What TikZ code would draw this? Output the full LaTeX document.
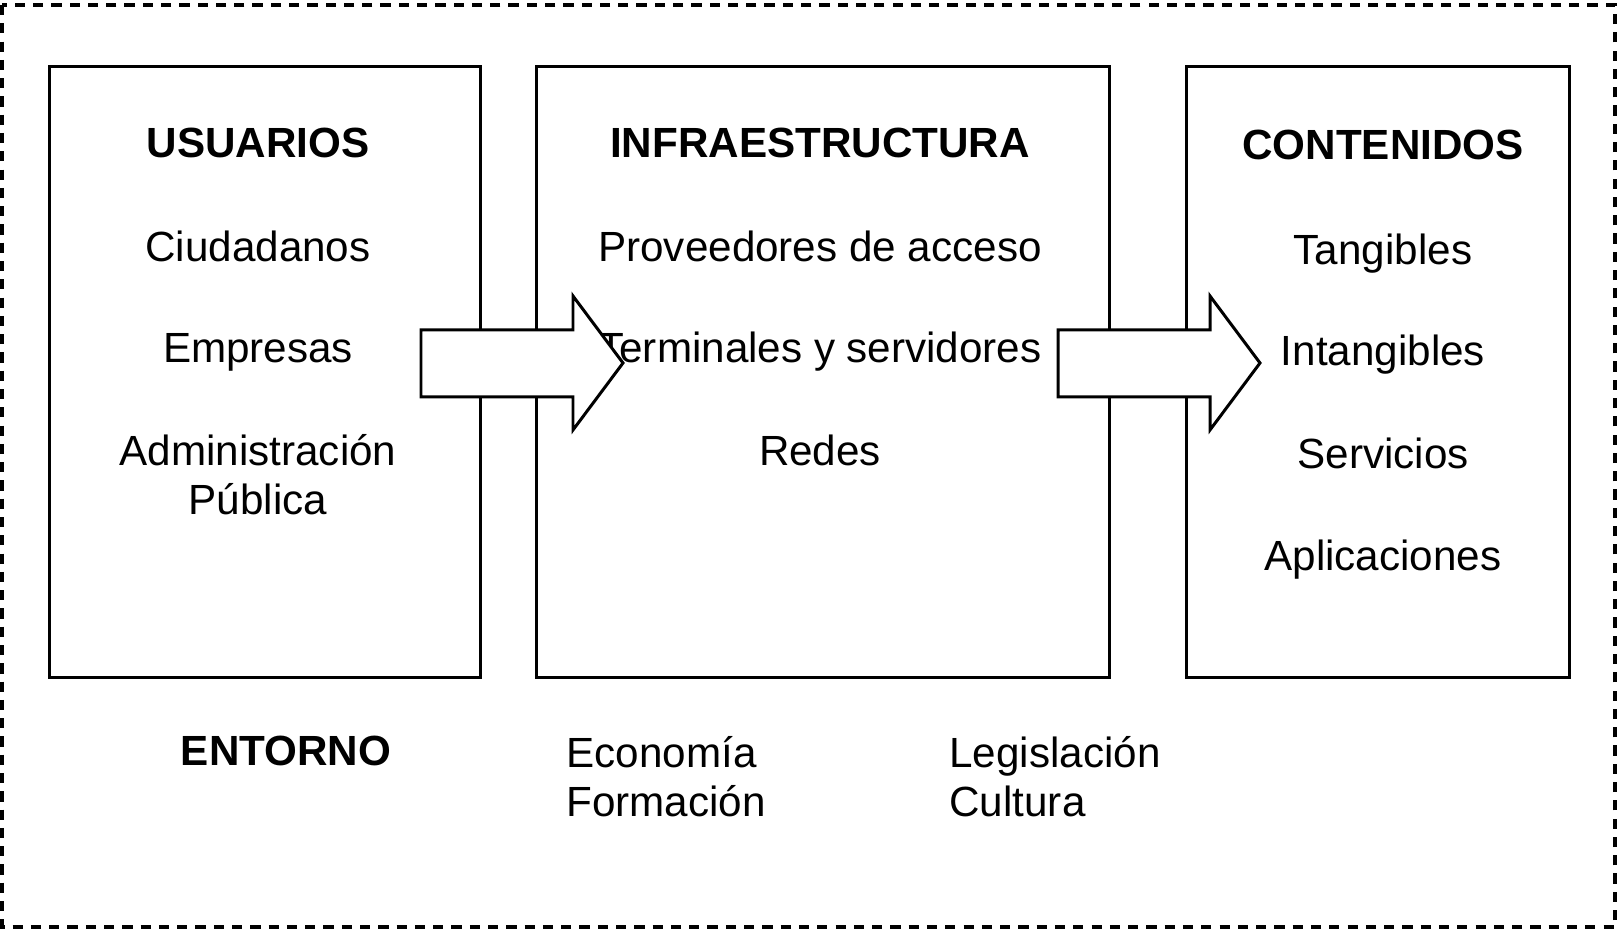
\documentclass[tikz,border=0pt]{standalone}
\usepackage{fontspec}
\setmainfont{Liberation Sans}
\usetikzlibrary{positioning}

\begin{document}
\begin{tikzpicture}[x=0.01cm, y=-0.01cm, line width=0.85pt, inner sep=0pt,
    font=\fontsize{12pt}{14pt}\selectfont,
    block/.style={draw, rectangle, minimum height=6.10cm},
    head/.style={anchor=base, font=\fontsize{12pt}{14pt}\selectfont\bfseries},
    item/.style={anchor=base, align=center}]
\useasboundingbox (0,0) rectangle (1617,931);
\draw[dash pattern=on 2.9pt off 2.3pt, line width=0.9pt] (2,5) rectangle (1615,927);

\path (265,372) node[block, minimum width=4.31cm] (usr) {};
\path (823,372) node[block, minimum width=5.72cm] (inf) {};
\path (1378,372) node[block, minimum width=3.82cm] (cnt) {};

\path (258,158) node[head] (U-0) {USUARIOS};
\foreach \na / \y / \txt in {1/262/Ciudadanos, 2/363/Empresas, 3/515/{Administración\\Pública}}
    \path (258,\y) node[item] (U-\na) {\txt};

\path (820,158) node[head] (I-0) {INFRAESTRUCTURA};
\foreach \na / \y / \txt in {1/262/Proveedores de acceso, 2/363/Terminales y servidores, 3/466/Redes}
    \path (820,\y) node[item] (I-\na) {\txt};

\path (1383,160) node[head] (C-0) {CONTENIDOS};
\foreach \na / \y / \txt in {1/265/Tangibles, 2/366/Intangibles, 3/469/Servicios, 4/571/Aplicaciones}
    \path (1383,\y) node[item] (C-\na) {\txt};

% entorno
\path (286,766) node[head] (env) {ENTORNO};
\path (565,817) node[anchor=base west, align=left] (env-a) {Economía\\Formación};
\path (948,817) node[anchor=base west, align=left] (env-b) {Legislación\\Cultura};

% flechas huecas por encima
\foreach \x in {421,1058}{
    \draw[fill=white] (\x,330) -- ++(152,0) -- ++(0,-34) -- ++(50,67) -- ++(-50,67)
        -- ++(0,-33) -- ++(-152,0) -- cycle;
};
\end{tikzpicture}
\end{document}
